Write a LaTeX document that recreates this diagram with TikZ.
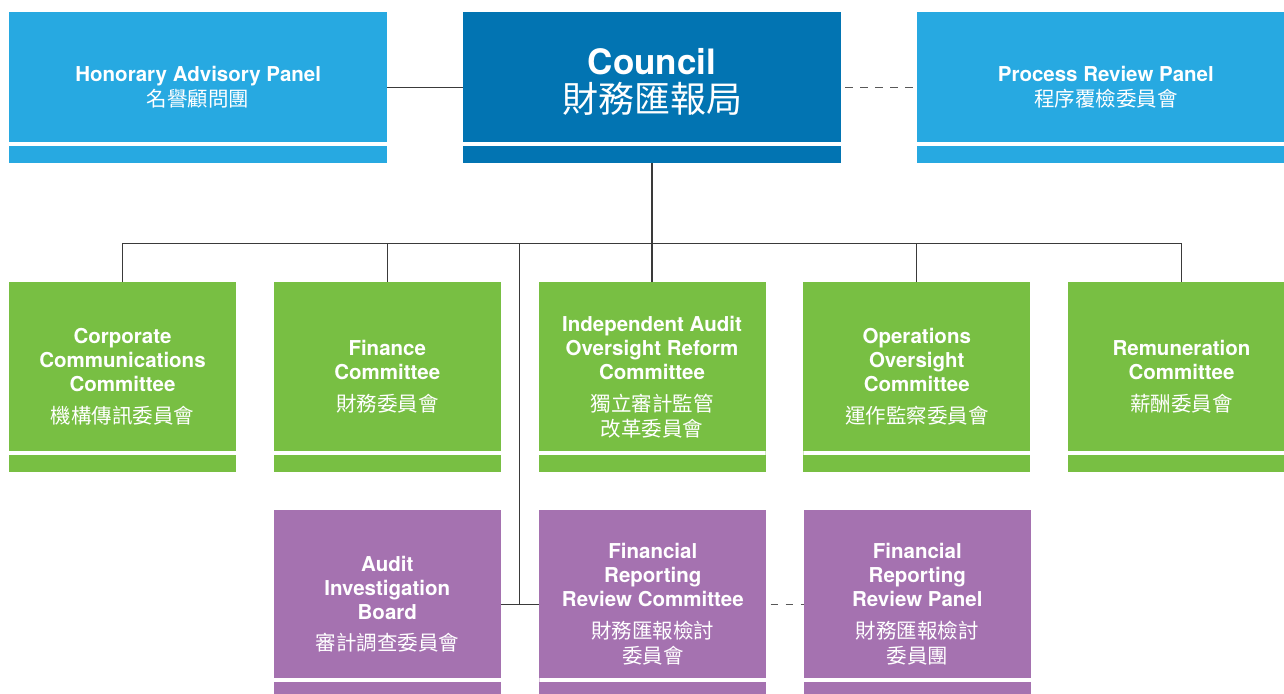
\documentclass[tikz,border=0pt]{standalone}
\usepackage{fontspec}
\setmainfont{TeX Gyre Heros}
\newfontfamily\cjk{Noto Sans CJK TC}
\newcommand\zh[2][20.5]{{\cjk\mdseries\fontsize{#1}{#1}\selectfont#2}}
\definecolor{lblue}{HTML}{27A9E1}
\definecolor{dblue}{HTML}{0274B2}
\definecolor{cgreen}{HTML}{78BF43}
\definecolor{cpurple}{HTML}{A572B0}
\definecolor{linegray}{HTML}{3A3A3A}
\tikzset{
  unit/.style={rectangle,fill=#1,text=white,align=center,inner sep=0pt,
    font=\bfseries\fontsize{20.5}{24}\selectfont,
    path picture={\fill[white] ([yshift=17pt]path picture bounding box.south west)
      rectangle ([yshift=21pt]path picture bounding box.south east);}},
  panel/.style={unit=#1,minimum width=378pt,minimum height=151pt},
  cttee/.style={unit=#1,minimum width=227pt,minimum height=189.4pt},
  link/.style={line width=1.2pt,draw=linegray},
  dotlink/.style={line width=1.2pt,draw=linegray!85,dash pattern=on 7.5pt off 7.5pt,dash phase=11pt}
}
\begin{document}
\begin{tikzpicture}[x=1pt,y=-1pt,node distance=264.75pt]
  \useasboundingbox (0,0) rectangle (1284,693);
  \node[panel=lblue] (hap) at (198.2,87.2) {Honorary Advisory Panel\\[1.5pt]\zh{名譽顧問團}};
  \node[panel=dblue,font=\bfseries\fontsize{35}{40}\selectfont,text depth=14pt] (council) [right of=hap,node distance=453.8pt] {Council\\[-2pt]\zh[36]{財務匯報局}};
  \node[panel=lblue] (prp) [right of=council,node distance=453.8pt] {Process Review Panel\\[1.5pt]\zh{程序覆檢委員會}};
  \node[cttee=cgreen] (corp) at (122.5,377) {Corporate\\Communications\\Committee\\[8pt]\zh{機構傳訊委員會}};
  \node[cttee=cgreen] (fin) [right of=corp] {Finance\\Committee\\[8pt]\zh{財務委員會}};
  \node[cttee=cgreen] (iaorc) [right of=fin] {Independent Audit\\Oversight Reform\\Committee\\[7.5pt]\zh{獨立審計監管}\\[1pt]\zh{改革委員會}};
  \node[cttee=cgreen] (ops) [right of=iaorc] {Operations\\Oversight\\Committee\\[8pt]\zh{運作監察委員會}};
  \node[cttee=cgreen] (remun) [right of=ops] {Remuneration\\Committee\\[8pt]\zh{薪酬委員會}};
  \node[cttee=cpurple] (aib) at (387.3,604.2) {Audit\\Investigation\\Board\\[7.5pt]\zh{審計調查委員會}};
  \node[cttee=cpurple] (frrc) [right of=aib,node distance=265.5pt] {Financial\\Reporting\\Review Committee\\[7.5pt]\zh{財務匯報檢討}\\[1pt]\zh{委員會}};
  \node[cttee=cpurple] (frrp) [right of=frrc,node distance=264.5pt] {Financial\\Reporting\\Review Panel\\[7.5pt]\zh{財務匯報檢討}\\[1pt]\zh{委員團}};
  \coordinate (bus) at (652,243.3);
  \coordinate (stem) at (519.5,243.3);
  \draw[link] (hap.east) -- (council.west);
  \draw[dotlink] (council.east) -- (prp.west);
  \draw[link] (council.south) -- (council.south |- bus);
  \draw[link] (corp.north) |- (remun.north |- bus) -- (remun.north);
  \foreach \n in {fin,iaorc,ops}
    \draw[link] (\n.north) -- (\n.north |- bus);
  \draw[link] (stem) -- (stem |- aib.east);
  \draw[link] (aib.east) -- (frrc.west);
  \draw[dotlink] (frrc.east) -- (frrp.west);
\end{tikzpicture}
\end{document}
